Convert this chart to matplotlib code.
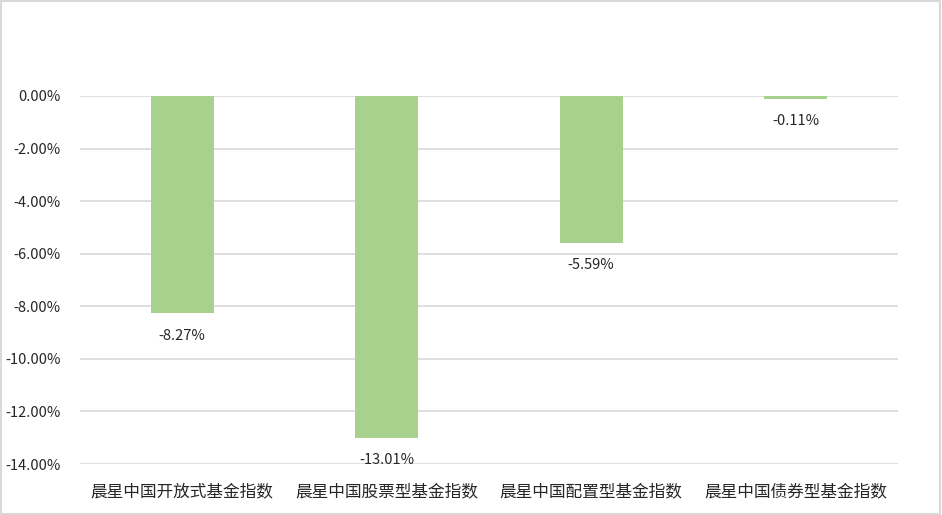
import matplotlib.pyplot as plt
from matplotlib.ticker import FuncFormatter
from matplotlib.patches import Rectangle

plt.rcParams['font.family'] = ['Noto Sans CJK SC', 'DejaVu Sans']

categories = ['晨星中国开放式基金指数', '晨星中国股票型基金指数',
              '晨星中国配置型基金指数', '晨星中国债券型基金指数']
returns = [-8.27, -13.01, -5.59, -0.11]
yticks = [0, -2, -4, -6, -8, -10, -12, -14]


def main():
    fig = plt.figure(figsize=(9.42, 5.15), dpi=100)
    ax = fig.add_axes([0.0849, 0.099, 0.8684, 0.7146])

    x = range(len(categories))
    ax.bar(x, returns, width=0.31, color='#A9D18E', zorder=3)
    for i, v in zip(x, returns):
        ax.annotate('%.2f%%' % v, (i, v), xytext=(0, -11), textcoords='offset points',
                    ha='center', va='top', fontsize=10.5, color='#262626')

    ax.set_xlim(-0.5, len(categories) - 0.5)
    ax.set_ylim(-14, 0)
    ax.set_yticks(yticks)
    ax.yaxis.set_major_formatter(FuncFormatter(lambda v, p: '%.2f%%' % v))
    ax.set_xticks(list(x))
    ax.set_xticklabels(categories, fontsize=12, color='#262626')
    ax.tick_params(axis='y', labelsize=10.5, colors='#262626', length=0, pad=14)
    ax.tick_params(axis='x', length=0, pad=14)
    ax.grid(axis='y', color='#D9D9D9', linewidth=1.2, zorder=0)
    for s in ax.spines.values():
        s.set_visible(False)

    fig.patches.append(Rectangle((0.001, 0.002), 0.997, 0.996, transform=fig.transFigure,
                                 fill=False, edgecolor='#D9D9D9', linewidth=1.5))
    fig.savefig('out.png', dpi=100)


if __name__ == '__main__':
    main()
